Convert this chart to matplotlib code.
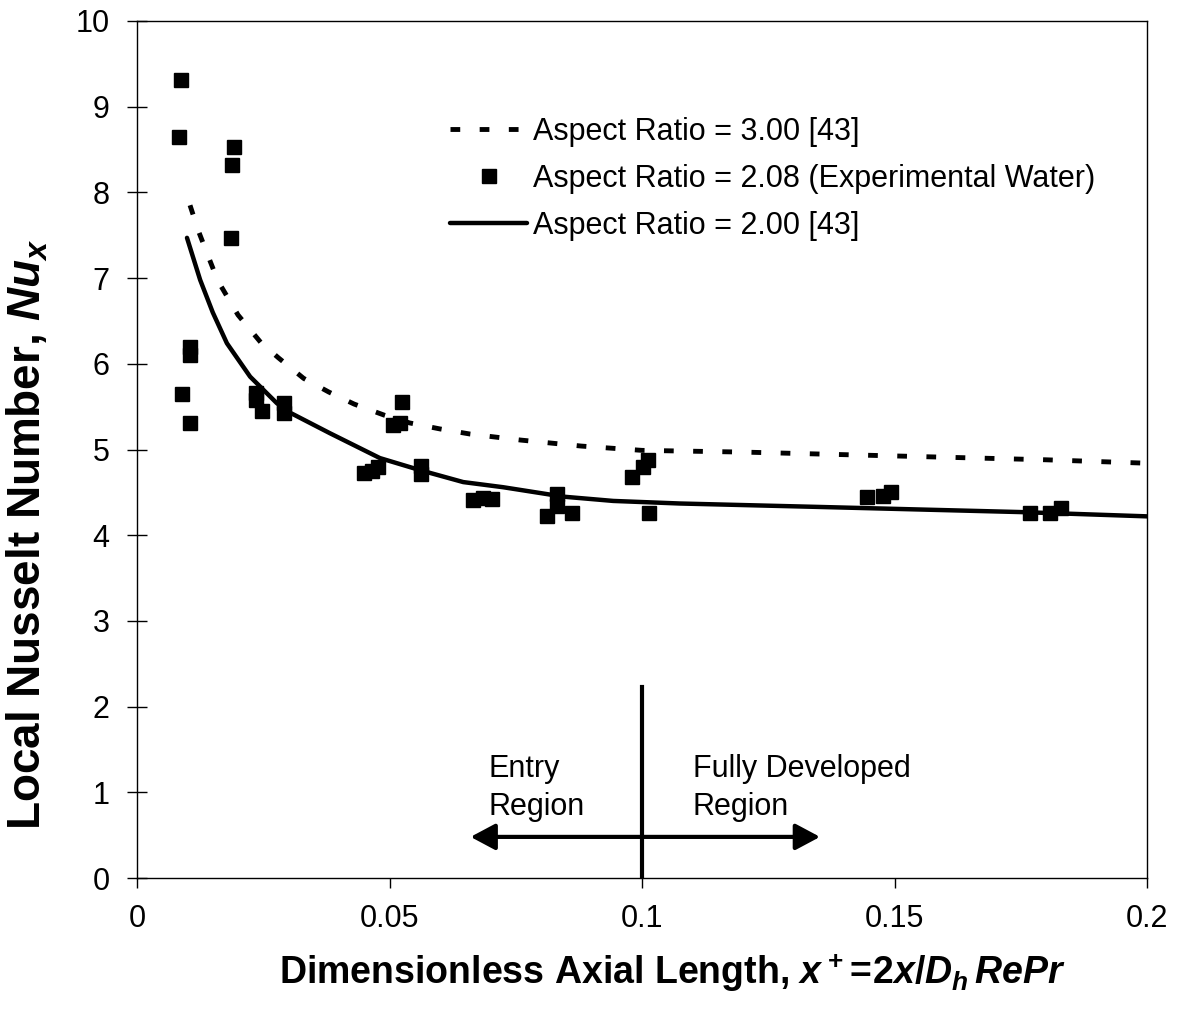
"""
Local Nusselt number along a rectangular channel: experiment vs. reference curves.
"""

import matplotlib

matplotlib.use("Agg")
import matplotlib.pyplot as plt
from matplotlib.patches import FancyArrowPatch

plt.rcParams["font.family"] = ["Liberation Sans", "DejaVu Sans"]
plt.rcParams["mathtext.fontset"] = "custom"
plt.rcParams["mathtext.rm"] = "Liberation Sans:bold"
plt.rcParams["mathtext.bf"] = "Liberation Sans:bold"
plt.rcParams["mathtext.it"] = "Liberation Sans:italic:bold"

# Aspect ratio 3.00 reference curve [43]
ar3_x = [0.0105, 0.0121, 0.014, 0.016, 0.020, 0.0245, 0.028, 0.033, 0.038,
         0.043, 0.049, 0.054, 0.060, 0.066, 0.076, 0.088, 0.100, 0.120,
         0.140, 0.160, 0.180, 0.200]
ar3_nu = [7.85, 7.56, 7.27, 6.97, 6.57, 6.25, 6.07, 5.83, 5.67,
          5.53, 5.40, 5.31, 5.24, 5.18, 5.11, 5.04, 4.99, 4.97,
          4.94, 4.91, 4.88, 4.84]

# Aspect ratio 2.00 reference curve [43]
ar2_x = [0.0099, 0.0125, 0.015, 0.0178, 0.0224, 0.0277, 0.0303, 0.0382,
         0.0481, 0.056, 0.0646, 0.0725, 0.0844, 0.0943, 0.1075, 0.135,
         0.175, 0.200]
ar2_nu = [7.47, 6.98, 6.60, 6.24, 5.85, 5.54, 5.43, 5.19,
          4.90, 4.76, 4.62, 4.56, 4.45, 4.40, 4.37, 4.33,
          4.27, 4.22]

# Experimental water, aspect ratio 2.08
exp_x = [0.0087, 0.0083, 0.0192, 0.0188, 0.0186, 0.0105, 0.0105, 0.0089,
         0.0105, 0.0236, 0.0236, 0.0248, 0.0291, 0.0291, 0.0449, 0.0465,
         0.0478, 0.0507, 0.0521, 0.0525, 0.0562, 0.0562, 0.0665, 0.0686,
         0.0703, 0.0811, 0.0831, 0.0831, 0.0861, 0.0980, 0.1002, 0.1012,
         0.1014, 0.1446, 0.1477, 0.1493, 0.1768, 0.1808, 0.1830]
exp_nu = [9.31, 8.65, 8.53, 8.32, 7.47, 6.20, 6.10, 5.65,
          5.31, 5.66, 5.58, 5.45, 5.54, 5.43, 4.73, 4.75,
          4.80, 5.29, 5.31, 5.55, 4.81, 4.71, 4.41, 4.43,
          4.42, 4.23, 4.48, 4.34, 4.26, 4.68, 4.80, 4.88,
          4.26, 4.45, 4.46, 4.50, 4.26, 4.26, 4.32]

x_ticks = [0, 0.05, 0.1, 0.15, 0.2]
x_tick_labels = ["0", "0.05", "0.1", "0.15", "0.2"]
y_ticks = list(range(0, 11))

# boundary between entry and fully developed regions
x_boundary = 0.1


def plot_nusselt(save_path="out.png"):
    fig = plt.figure(figsize=(11.83, 10.09), dpi=100)
    ax = fig.add_axes([0.1158, 0.1298, 0.8538, 0.8494])

    ax.plot(ar3_x, ar3_nu, color="k", lw=3.5, ls=(0, (2, 4)),
            dash_capstyle="butt", label="Aspect Ratio = 3.00 [43]")
    ax.plot(exp_x, exp_nu, "s", color="k", ms=10, mec="k",
            label="Aspect Ratio = 2.08 (Experimental Water)")
    ax.plot(ar2_x, ar2_nu, color="k", lw=3.2, solid_capstyle="round",
            label="Aspect Ratio = 2.00 [43]")

    # region divider and double arrow
    ax.plot([x_boundary, x_boundary], [0, 2.23], color="k", lw=3)
    arrow = FancyArrowPatch((0.0655, 0.48), (0.1358, 0.48),
                            arrowstyle="<|-|>,head_length=0.75,head_width=0.4",
                            mutation_scale=20, lw=3, color="k")
    ax.add_patch(arrow)
    ax.text(0.0697, 1.18, "Entry", fontsize=22, va="baseline")
    ax.text(0.0697, 0.735, "Region", fontsize=22, va="baseline")
    ax.text(0.1100, 1.18, "Fully Developed", fontsize=22, va="baseline")
    ax.text(0.1100, 0.735, "Region", fontsize=22, va="baseline")

    ax.set_xlim(0, 0.2)
    ax.set_ylim(0, 10)
    ax.set_xticks(x_ticks)
    ax.set_xticklabels(x_tick_labels)
    ax.set_yticks(y_ticks)
    ax.tick_params(axis="x", direction="out", length=7, width=1,
                   labelsize=22, pad=12)
    ax.tick_params(axis="y", direction="inout", length=13.7, width=1,
                   labelsize=22, pad=13)
    for sp in ax.spines.values():
        sp.set_linewidth(1)

    ax.set_xlabel(r"Dimensionless Axial Length, $x^+\!=\!2x/D_h\,RePr$",
                  fontsize=27, fontweight="bold")
    ax.xaxis.label.set_va("center")
    ax.xaxis.set_label_coords(0.53, -0.11)
    ax.set_ylabel(r"Local Nusselt Number, $Nu_x$",
                  fontsize=33, fontweight="bold")
    ax.yaxis.label.set_va("center")
    ax.yaxis.set_label_coords(-0.108, 0.401)

    ax.legend(loc="upper left", bbox_to_anchor=(0.31, 0.888), frameon=False,
              fontsize=22, handlelength=2.52, handletextpad=0.2,
              labelspacing=0.55, borderpad=0, borderaxespad=0)

    fig.savefig(save_path, dpi=100)
    plt.close(fig)
    return fig


if __name__ == "__main__":
    plot_nusselt("out.png")
